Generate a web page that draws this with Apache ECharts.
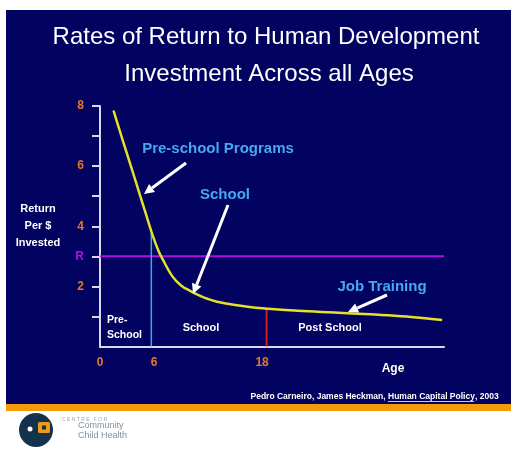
<!DOCTYPE html>
<html>
<head>
<meta charset="utf-8">
<script src="https://cdn.jsdelivr.net/npm/echarts@6/dist/echarts.min.js"></script>
<style>
html,body{margin:0;padding:0;background:#fff}
#chart{width:511px;height:450px}
</style>
</head>
<body>
<div id="chart"></div>
<script>
// return per $ invested by age
const ages    = [1.5, 2, 3, 4, 5, 5.8, 6.5, 7, 8, 9, 10, 11, 12, 13, 15, 18, 22, 26, 30, 34, 38];
const returns = [7.85, 7.36, 6.41, 5.46, 4.5, 3.74, 3.18, 2.88, 2.35, 2.03, 1.85, 1.7, 1.58, 1.49, 1.38, 1.27, 1.19, 1.13, 1.07, 1.0, 0.88];
const rLevel = 3;
const preSchoolEdge = [5.7, 3.8];   // age, height where cyan line meets curve
const schoolEdge = [18.5, 1.26];
const xLabelValues = [0, 6, 18];
const yLabelValues = [2, 3, 4, 6, 8];
const yTickValues = [1, 2, 3, 4, 5, 6, 7, 8];

const FONT = 'Liberation Sans, Arial, sans-serif';
const ORANGE = '#e8762a';
const MAGENTA = '#b010e0';
const BLUE = '#45a8f0';
const AXIS = '#d8d8ee';

function arrow(x1, y1, x2, y2) {
    const dx = x2 - x1, dy = y2 - y1;
    const len = Math.sqrt(dx * dx + dy * dy);
    const ux = dx / len, uy = dy / len;
    const hl = 10, hw = 5;
    const bx = x2 - ux * hl, by = y2 - uy * hl;
    return [
        { type: 'line', z: 50, shape: { x1: x1, y1: y1, x2: bx, y2: by }, style: { stroke: '#fff', lineWidth: 3 } },
        { type: 'polygon', z: 50, shape: { points: [[x2, y2], [bx - uy * hw, by + ux * hw], [bx + uy * hw, by - ux * hw]] }, style: { fill: '#fff' } }
    ];
}

function label(text, x, y, size, color, align) {
    return {
        type: 'text', z: 50, x: x, y: y,
        style: { text: text, fill: color, font: 'bold ' + size + 'px ' + FONT, align: align || 'center', verticalAlign: 'middle' }
    };
}

var myChart = echarts.init(document.getElementById('chart'));

let option = {
    backgroundColor: '#fff',
    animation: false,
    grid: { left: 100, right: 67, top: 106, bottom: 103.5 },
    xAxis: {
        type: 'value', min: 0, max: 38.2,
        splitLine: { show: false },
        axisLine: { lineStyle: { color: AXIS, width: 2 } },
        axisTick: { show: false },
        axisLabel: {
            customValues: xLabelValues, margin: 10,
            color: ORANGE, fontSize: 12, fontWeight: 'bold', fontFamily: FONT
        }
    },
    yAxis: {
        type: 'value', min: 0, max: 8, interval: 1,
        splitLine: { show: false },
        axisLine: { show: true, lineStyle: { color: AXIS, width: 2 } },
        axisTick: { show: true, customValues: yTickValues, length: 8, lineStyle: { color: AXIS, width: 2 } },
        axisLabel: {
            customValues: yLabelValues, margin: 16,
            color: ORANGE, fontSize: 12, fontWeight: 'bold', fontFamily: FONT,
            formatter: function (v) { return v === rLevel ? '{r|R}' : String(v); },
            rich: { r: { color: MAGENTA, fontSize: 12, fontWeight: 'bold', fontFamily: FONT } }
        }
    },
    series: [
        {
            type: 'line', data: [[0, rLevel], [38.2, rLevel]], symbol: 'none', silent: true,
            lineStyle: { color: MAGENTA, width: 2 }, z: 3
        },
        {
            type: 'line', data: [[preSchoolEdge[0], 0], preSchoolEdge], symbol: 'none', silent: true,
            lineStyle: { color: '#2fb4d4', width: 1.5 }, z: 3
        },
        {
            type: 'line', data: [[schoolEdge[0], 0], schoolEdge], symbol: 'none', silent: true,
            lineStyle: { color: '#d81818', width: 2 }, z: 3
        },
        {
            type: 'line', data: ages.map((a, i) => [a, returns[i]]), symbol: 'none', smooth: 0.4,
            lineStyle: { color: '#e6e02a', width: 2.5 }, z: 4
        }
    ],
    graphic: [
        { type: 'rect', z: -10, shape: { x: 6, y: 10, width: 505, height: 394 }, style: { fill: '#020260' } },
        { type: 'rect', z: -10, shape: { x: 6, y: 404, width: 505, height: 7 }, style: { fill: '#f59a0a' } },
        { type: 'text', z: 50, x: 266, y: 37, style: { text: 'Rates of Return to Human Development', fill: '#fff', font: '24px ' + FONT, align: 'center', verticalAlign: 'middle' } },
        { type: 'text', z: 50, x: 269, y: 74, style: { text: 'Investment Across all Ages', fill: '#fff', font: '24px ' + FONT, align: 'center', verticalAlign: 'middle' } },
        { type: 'text', z: 50, x: 38, y: 226, style: { text: 'Return\nPer $\nInvested', fill: '#fff', font: 'bold 11px ' + FONT, align: 'center', verticalAlign: 'middle', lineHeight: 17 } },
        label('Pre-school Programs', 218, 149, 15, BLUE),
        label('School', 225, 195, 15, BLUE),
        label('Job Training', 382, 287, 15, BLUE),
        { type: 'text', z: 50, x: 107, y: 328, style: { text: 'Pre-\nSchool', fill: '#fff', font: 'bold 10.5px ' + FONT, align: 'left', verticalAlign: 'middle', lineHeight: 15 } },
        label('School', 201, 328, 11, '#fff'),
        label('Post School', 330, 328, 11, '#fff'),
        label('Age', 393, 369, 12, '#fff'),
        // source line, book title underlined
        label('Pedro Carneiro, James Heckman, ', 388, 397, 8.5, '#fff', 'right'),
        label('Human Capital Policy', 388, 397, 8.5, '#fff', 'left'),
        label(', 2003', 475, 397, 8.5, '#fff', 'left'),
        { type: 'line', z: 50, shape: { x1: 388, y1: 401.5, x2: 474, y2: 401.5 }, style: { stroke: '#fff', lineWidth: 0.8 } },
        // logo
        { type: 'circle', z: 50, shape: { cx: 36, cy: 430, r: 17 }, style: { fill: '#14324c' } },
        { type: 'circle', z: 51, shape: { cx: 30, cy: 429, r: 2.5 }, style: { fill: '#fff' } },
        { type: 'rect', z: 51, shape: { x: 38, y: 422, width: 12, height: 11, r: 1.5 }, style: { fill: '#f09a1a' } },
        { type: 'rect', z: 52, shape: { x: 42, y: 425.5, width: 4, height: 4 }, style: { fill: '#14324c' } },
        { type: 'text', z: 50, x: 62, y: 420, style: { text: 'C E N T R E   F O R', fill: '#9aa4b0', font: '5px ' + FONT, align: 'left', verticalAlign: 'middle' } },
        { type: 'text', z: 50, x: 78, y: 431, style: { text: 'Community\nChild Health', fill: '#8090a4', font: '9px ' + FONT, align: 'left', verticalAlign: 'middle', lineHeight: 10 } }
    ].concat(
        arrow(186, 163, 144, 194),
        arrow(228, 205, 193, 294),
        arrow(387, 295, 348, 312)
    )
};

myChart.setOption(option);
</script>
</body>
</html>
